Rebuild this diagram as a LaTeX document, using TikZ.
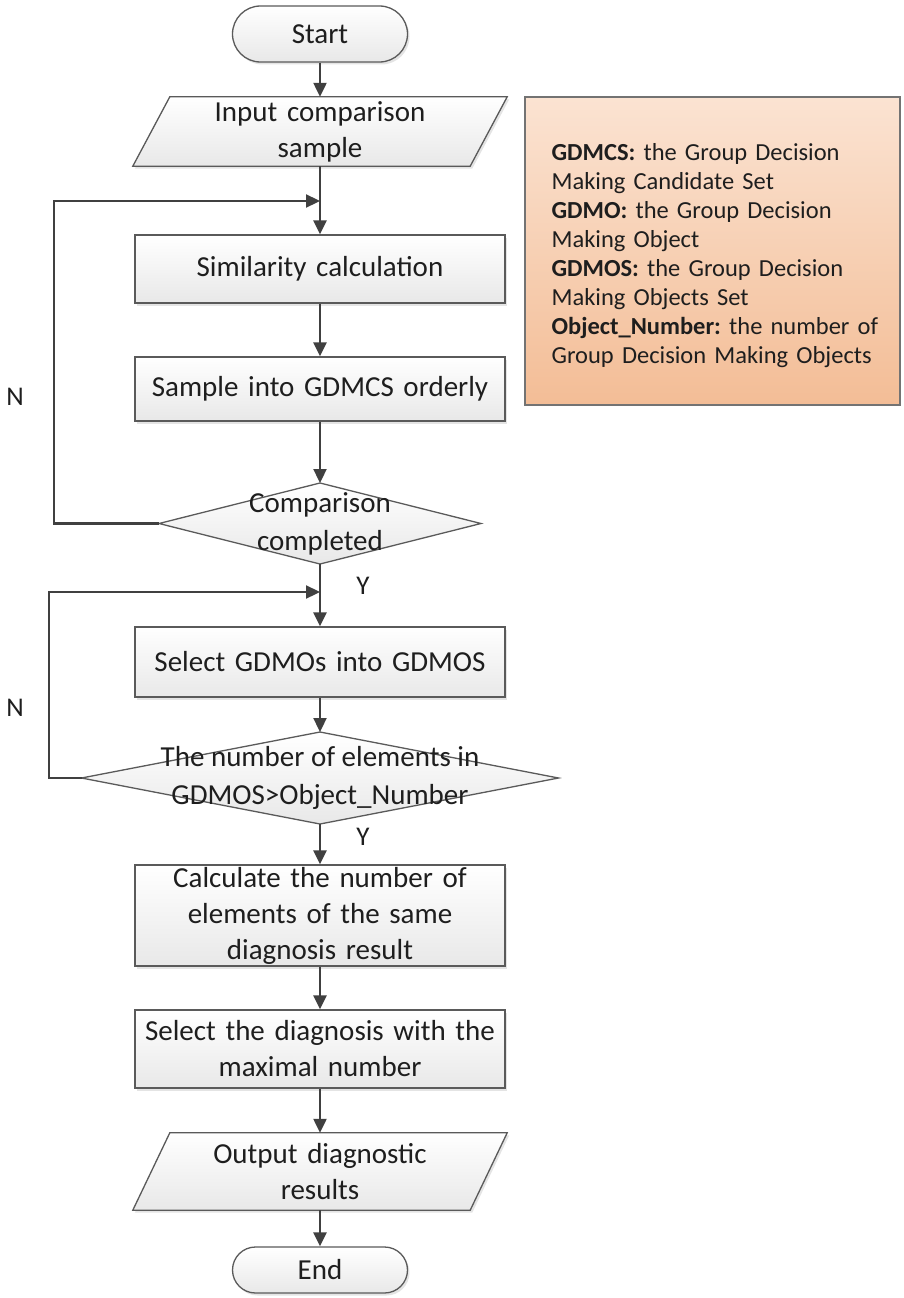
\documentclass[tikz,border=0pt]{standalone}
\usepackage{fontspec}
\setmainfont{Carlito}
\usetikzlibrary{arrows.meta,shapes.geometric,shadows,backgrounds}
\definecolor{edge}{HTML}{5A5A5A}
\definecolor{arrowc}{HTML}{404040}
\definecolor{txt}{HTML}{1E1E1E}
\definecolor{peachtop}{HTML}{FBE3D2}
\definecolor{peachbot}{HTML}{F3BD96}
\tikzset{
  shade box/.style={draw=edge, line width=1.3pt, top color=white, bottom color=black!9},
  shad/.style={drop shadow={shadow xshift=2pt, shadow yshift=-2.5pt, fill=black!30, opacity=.35}},
  mainfont/.style={font=\fontsize{29}{36}\selectfont\frenchspacing, text=txt},
  box/.style={shade box, shad, mainfont, minimum width=370pt, text width=350pt, align=center, inner sep=0pt},
  term/.style={shade box, shad, mainfont, rounded corners=28pt, minimum width=175pt, minimum height=56pt, inner sep=0pt},
  paratext/.style={mainfont, minimum width=337pt, minimum height=69pt, text width=320pt, align=center, inner sep=0pt},
  dia/.style={shade box, shape=diamond, inner sep=0pt, outer sep=0pt},
  diatext/.style={font=\fontsize{29}{38}\selectfont, text=txt, align=center},
  arr/.style={draw=arrowc, line width=2.3pt, -{Triangle[length=14pt,width=13pt]}},
  lbl/.style={font=\fontsize{27}{30}\selectfont, text=txt},
  legend/.style={draw=black!55, line width=1.2pt, top color=peachtop, bottom color=peachbot, minimum width=375pt, minimum height=308pt, inner sep=0pt},
  legtext/.style={text width=345pt, align=left, inner sep=0pt, font=\fontsize{24.5}{29}\selectfont\frenchspacing, text=txt},
}
\begin{document}
\begin{tikzpicture}[x=1pt,y=-1pt]
\useasboundingbox (0,0) rectangle (904,1298);
\begin{scope}[on background layer]
\fill[white] (0,0) rectangle (904,1298);
\end{scope}

% nodes
\node[term] (start) at (320,34) {Start};
\node[paratext] (in) at (320,131.5) {Input comparison\\sample};
\node[box, minimum height=68pt] (sim) at (320,269) {Similarity calculation};
\node[box, minimum height=64pt] (samp) at (320,389) {Sample into GDMCS orderly};
\node[dia, minimum width=322pt, minimum height=81pt] (d1) at (320,523.5) {};
\node[diatext] (d1t) at (d1) {Comparison\\completed};
\node[box, minimum height=70pt] (sel) at (320,662) {Select GDMOs into GDMOS};
\node[dia, minimum width=477pt, minimum height=92pt] (d2) at (320,778) {};
\node[diatext] (d2t) at (d2) {The number of elements in\\GDMOS>Object\_Number};
\node[box, minimum height=101pt] (calc) at (320,915.5) {Calculate the number of\\elements of the same\\diagnosis result};
\node[box, minimum height=78pt] (seld) at (320,1049) {Select the diagnosis with the\\maximal number};
\node[paratext, minimum height=77pt] (out) at (320,1171.5) {Output diagnostic\\results};
\node[term, minimum height=46pt, rounded corners=23pt] (end) at (320,1270) {End};

\begin{scope}[on background layer]
\draw[shade box, shad] ([xshift=18.5pt]in.north west) -- ([xshift=18.5pt]in.north east)
  -- ([xshift=-18.5pt]in.south east) -- ([xshift=-18.5pt]in.south west) -- cycle;
\draw[shade box, shad] ([xshift=18.5pt]out.north west) -- ([xshift=18.5pt]out.north east)
  -- ([xshift=-18.5pt]out.south east) -- ([xshift=-18.5pt]out.south west) -- cycle;
\end{scope}

% legend
\node[legend] (leg) at (712.5,251) {};
\node[legtext, anchor=west] (legt) at ([xshift=27pt,yshift=-5pt]leg.west) {\textbf{GDMCS:} the Group Decision\\Making Candidate Set\\\textbf{GDMO:} the Group Decision\\Making Object\\\textbf{GDMOS:} the Group Decision\\Making Objects Set\\\textbf{Object\_Number:} the number of\\Group Decision Making Objects};

% junctions
\coordinate (j1) at (320,201);
\coordinate (j2) at (320,592);

% connectors
\draw[arr] (start) -- (in);
\draw[arr] (in.south) -- (sim.north);
\draw[arr] (sim) -- (samp);
\draw[arr] (samp) -- (d1.north);
\draw[arr] (d1.south) -- (sel.north);
\draw[arr] (sel) -- (d2.north);
\draw[arr] (d2.south) -- (calc.north);
\draw[arr] (calc) -- (seld);
\draw[arr] (seld) -- (out);
\draw[arr] (out) -- (end);
\draw[arr] (d1.west) -- (54,523.5) |- (j1);
\draw[arr] (d2.west) -- (49,778) |- (j2);

% labels
\node[lbl] (n1) at (15,397) {N};
\node[lbl] (n2) at (15,708) {N};
\node[lbl] (y1) at (363,586) {Y};
\node[lbl] (y2) at (363,837) {Y};
\end{tikzpicture}
\end{document}
